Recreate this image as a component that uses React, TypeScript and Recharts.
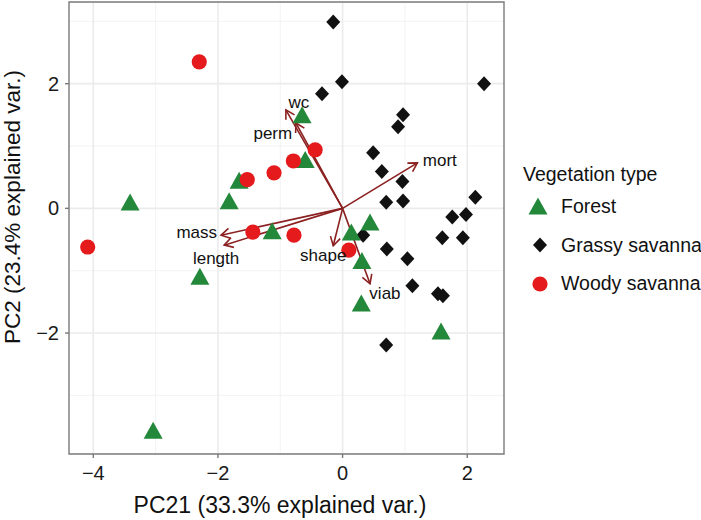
import React from 'react';
import {
  ScatterChart, Scatter, XAxis, YAxis, CartesianGrid,
  ReferenceLine, ReferenceArea,
} from 'recharts';

const FONT = '"Liberation Sans", Arial, Helvetica, sans-serif';

// axis ranges + ticks
const X_DOMAIN = [-4.39, 2.59];
const Y_DOMAIN = [-3.94, 3.31];
const X_TICKS = [-4, -2, 0, 2];
const Y_TICKS = [-2, 0, 2];
const X_MINOR = [-3, -1, 1];
const Y_MINOR = [-3, -1, 1, 3];

// PCA scores per vegetation type
const forest = [
  { x: -0.65, y: 1.47 }, { x: -0.60, y: 0.75 }, { x: -1.66, y: 0.42 },
  { x: -1.82, y: 0.09 }, { x: -3.41, y: 0.07 }, { x: -1.13, y: -0.39 },
  { x: 0.44, y: -0.25 }, { x: 0.14, y: -0.41 }, { x: 0.31, y: -0.87 },
  { x: 0.30, y: -1.55 }, { x: -2.29, y: -1.12 }, { x: 1.58, y: -2.0 },
  { x: -3.04, y: -3.59 },
];

const grassy = [
  { x: -0.15, y: 2.99 }, { x: -0.01, y: 2.03 }, { x: -0.33, y: 1.84 },
  { x: 2.27, y: 2.0 }, { x: 0.97, y: 1.5 }, { x: 0.89, y: 1.31 },
  { x: 0.49, y: 0.89 }, { x: 0.63, y: 0.59 }, { x: 0.96, y: 0.43 },
  { x: 2.13, y: 0.18 }, { x: 0.7, y: 0.1 }, { x: 0.97, y: 0.12 },
  { x: 1.76, y: -0.14 }, { x: 1.98, y: -0.1 }, { x: 1.6, y: -0.47 },
  { x: 1.93, y: -0.47 }, { x: 0.33, y: -0.43 }, { x: 0.71, y: -0.65 },
  { x: 1.04, y: -0.81 }, { x: 1.12, y: -1.24 }, { x: 1.53, y: -1.37 },
  { x: 1.61, y: -1.4 }, { x: 0.7, y: -2.19 },
];

const woody = [
  { x: -2.3, y: 2.35 }, { x: -0.44, y: 0.94 }, { x: -0.79, y: 0.76 },
  { x: -1.1, y: 0.57 }, { x: -1.53, y: 0.46 }, { x: -1.44, y: -0.38 },
  { x: -0.78, y: -0.43 }, { x: -4.09, y: -0.62 }, { x: 0.1, y: -0.67 },
];

// variable loadings (arrow tips) and where their names sit
const loadingNames = ['wc', 'perm', 'mort', 'mass', 'length', 'shape', 'viab'];
const loadingTips = [
  [-0.91, 1.58], [-0.75, 1.37], [1.2, 0.73], [-1.95, -0.43],
  [-1.9, -0.59], [-0.15, -0.6], [0.44, -1.21],
];
const loadingLabelPos = [
  [-0.7, 1.69], [-1.12, 1.2], [1.56, 0.76], [-2.34, -0.39],
  [-2.03, -0.81], [-0.31, -0.76], [0.68, -1.37],
];

const GREEN = '#23883a';
const RED = '#e41a1c';
const BLACK = '#111111';
const ARROW = '#8b2020';

const fmt = (v: number) => (v < 0 ? `\u2212${Math.abs(v)}` : `${v}`);

const triangle = (cx: number, cy: number) =>
  `M${cx},${cy - 10.5} L${cx + 9.5},${cy + 6.5} L${cx - 9.5},${cy + 6.5} Z`;
const diamond = (cx: number, cy: number) =>
  `M${cx},${cy - 7.5} L${cx + 7},${cy} L${cx},${cy + 7.5} L${cx - 7},${cy} Z`;

const TriShape = (p: any) => <path d={triangle(p.cx, p.cy)} fill={GREEN} />;
const DiaShape = (p: any) => <path d={diamond(p.cx, p.cy)} fill={BLACK} />;
const DotShape = (p: any) => <circle cx={p.cx} cy={p.cy} r={7.6} fill={RED} />;

const LabelShape = (p: any) => (
  <text
    x={p.cx} y={p.cy} textAnchor="middle" dominantBaseline="central"
    fontFamily={FONT} fontSize={17} fill={BLACK}
  >
    {p.payload.name}
  </text>
);

// line + open arrow head
const ArrowShape = (p: any) => {
  const { x1, y1, x2, y2 } = p;
  const a = Math.atan2(y2 - y1, x2 - x1);
  const len = 10;
  const sp = Math.PI / 6;
  const ax = x2 - len * Math.cos(a - sp);
  const ay = y2 - len * Math.sin(a - sp);
  const bx = x2 - len * Math.cos(a + sp);
  const by = y2 - len * Math.sin(a + sp);
  return (
    <g stroke={ARROW} strokeWidth={1.6} fill="none">
      <line x1={x1} y1={y1} x2={x2} y2={y2} />
      <polyline points={`${ax},${ay} ${x2},${y2} ${bx},${by}`} />
    </g>
  );
};

const labelData = loadingNames.map((name, i) => ({
  name, x: loadingLabelPos[i][0], y: loadingLabelPos[i][1],
}));

const LEGEND = [
  { label: 'Forest', kind: 'tri' },
  { label: 'Grassy savanna', kind: 'dia' },
  { label: 'Woody savanna', kind: 'dot' },
];

export default function App() {
  return (
    <div style={{ position: 'absolute', left: 0, top: 0, width: 701, height: 520, background: '#fff', fontFamily: FONT }}>
      <ScatterChart width={701} height={520} margin={{ top: 2, right: 197, bottom: 0, left: 0 }}>
        <CartesianGrid verticalValues={X_MINOR} horizontalValues={Y_MINOR} stroke="#f3f3f3" strokeWidth={1} />
        <CartesianGrid verticalValues={X_TICKS} horizontalValues={Y_TICKS} stroke="#ebebeb" strokeWidth={1.6} />
        <XAxis
          type="number" dataKey="x" domain={X_DOMAIN} ticks={X_TICKS} allowDataOverflow
          axisLine={false} tickSize={4} tickMargin={8} height={66}
          tickLine={{ stroke: '#7a7a7a', strokeWidth: 1.4 }}
          tick={{ fill: '#1a1a1a', fontSize: 20, fontFamily: FONT }}
          tickFormatter={fmt}
          label={{
            value: 'PC21 (33.3% explained var.)',
            content: () => (
              <text x={280} y={513} textAnchor="middle" fontFamily={FONT} fontSize={23} fill={BLACK}>
                PC21 (33.3% explained var.)
              </text>
            ),
          }}
        />
        <YAxis
          type="number" dataKey="y" domain={Y_DOMAIN} ticks={Y_TICKS} allowDataOverflow
          axisLine={false} tickSize={4} tickMargin={6} width={69}
          tickLine={{ stroke: '#7a7a7a', strokeWidth: 1.4 }}
          tick={{ fill: '#1a1a1a', fontSize: 20, fontFamily: FONT }}
          tickFormatter={fmt}
          label={{
            value: 'PC2 (23.4% explained var.)',
            content: () => (
              <text
                x={20} y={207} textAnchor="middle" fontFamily={FONT} fontSize={22.5} fill={BLACK}
                transform="rotate(-90 20 207)"
              >
                PC2 (23.4% explained var.)
              </text>
            ),
          }}
        />
        <ReferenceArea
          x1={X_DOMAIN[0]} x2={X_DOMAIN[1]} y1={Y_DOMAIN[0]} y2={Y_DOMAIN[1]}
          fill="none" fillOpacity={0} stroke="#7a7a7a" strokeWidth={1.4} ifOverflow="visible"
        />
        <Scatter data={grassy} shape={DiaShape} isAnimationActive={false} />
        <Scatter data={forest} shape={TriShape} isAnimationActive={false} />
        <Scatter data={woody} shape={DotShape} isAnimationActive={false} />
        {loadingTips.map((t, i) => (
          <ReferenceLine
            key={loadingNames[i]}
            segment={[{ x: 0, y: 0 }, { x: t[0], y: t[1] }]}
            shape={ArrowShape}
            ifOverflow="visible"
          />
        ))}
        <Scatter data={labelData} shape={LabelShape} isAnimationActive={false} />
      </ScatterChart>

      {/* legend */}
      <div style={{ position: 'absolute', left: 523, top: 162, color: BLACK, whiteSpace: 'nowrap' }}>
        <div style={{ fontSize: 19.5, lineHeight: '24px', marginBottom: 1 }}>Vegetation type</div>
        {LEGEND.map(l => (
          <div key={l.label} style={{ display: 'flex', alignItems: 'center', height: 38.8 }}>
            <svg width={34} height={30}>
              {l.kind === 'tri' && <path d={triangle(15, 17)} fill={GREEN} />}
              {l.kind === 'dia' && <path d={diamond(17, 15)} fill={BLACK} />}
              {l.kind === 'dot' && <circle cx={17} cy={15} r={7.6} fill={RED} />}
            </svg>
            <span style={{ fontSize: 19.5, marginLeft: 4 }}>{l.label}</span>
          </div>
        ))}
      </div>
    </div>
  );
}
